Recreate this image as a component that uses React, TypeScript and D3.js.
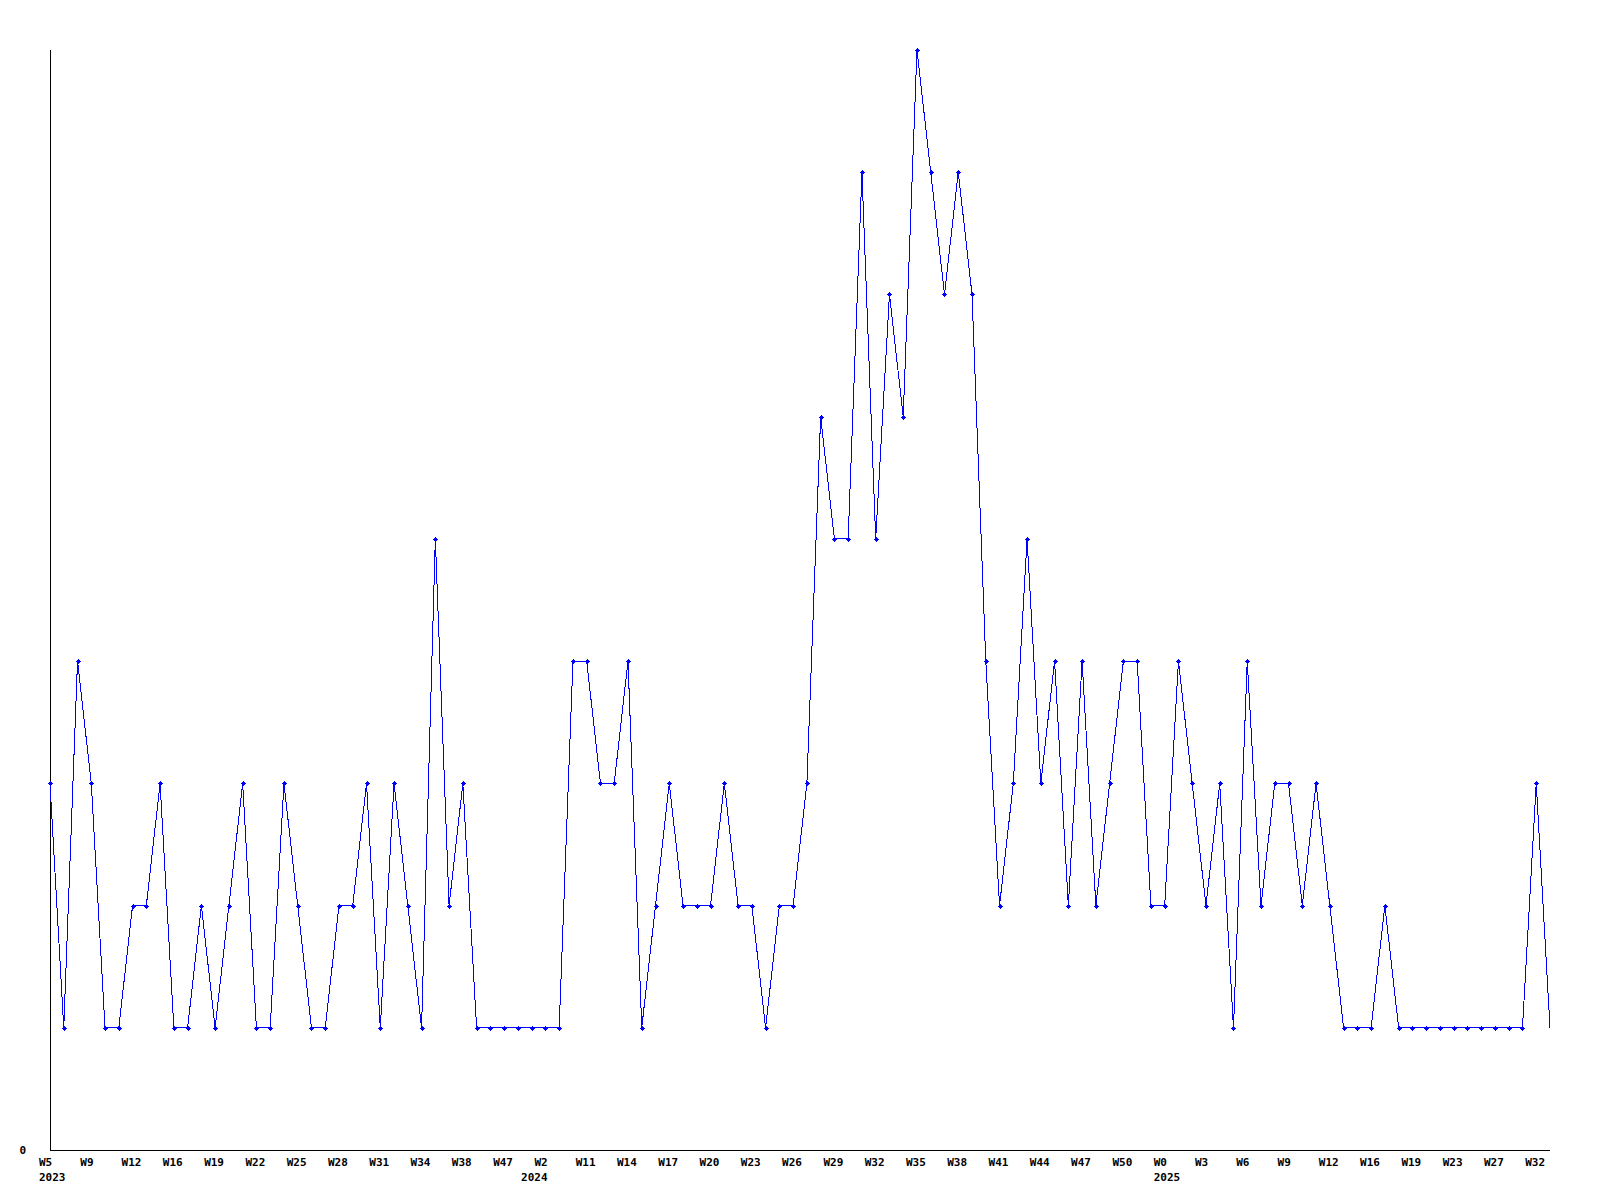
import React from "react";
import * as d3 from "d3";

const values: number[] = [
  3, 1, 4, 3, 1, 1, 2, 2, 3, 1,
  1, 2, 1, 2, 3, 1, 1, 3, 2, 1,
  1, 2, 2, 3, 1, 3, 2, 1, 5, 2,
  3, 1, 1, 1, 1, 1, 1, 1, 4, 4,
  3, 3, 4, 1, 2, 3, 2, 2, 2, 3,
  2, 2, 1, 2, 2, 3, 6, 5, 5, 8,
  5, 7, 6, 9, 8, 7, 8, 7, 4, 2,
  3, 5, 3, 4, 2, 4, 2, 3, 4, 4,
  2, 2, 4, 3, 2, 3, 1, 4, 2, 3,
  3, 2, 3, 2, 1, 1, 1, 2, 1, 1,
  1, 1, 1, 1, 1, 1, 1, 1, 3, 1,
];

const weekLabels: string[] = [
  "W5", "W9", "W12", "W16", "W19", "W22", "W25", "W28", "W31", "W34", "W38", "W47", "W2",
  "W11", "W14", "W17", "W20", "W23", "W26", "W29", "W32", "W35", "W38", "W41", "W44", "W47", "W50",
  "W0", "W3", "W6", "W9", "W12", "W16", "W19", "W23", "W27", "W32",
];
const labelEvery = 3;

const years: string[] = ["2023", "2024", "2025"];
const yearIndex: number[] = [0, 36, 81];
const yearAnchor: ("start" | "end")[] = ["start", "end", "start"];

const yTicks: number[] = [0];

const W = 1600;
const H = 1200;
const left = 50;
const right = 1550;
const top = 50;
const bottom = 1150;
const font = "'DejaVu Sans Mono', monospace";

export default function App() {
  const x = d3
    .scaleLinear()
    .domain([0, values.length - 1])
    .range([left, right]);
  const y = d3.scaleLinear().domain([0, d3.max(values) as number]).range([bottom, top]);

  const line = d3
    .line<number>()
    .x((_, i) => x(i))
    .y((d) => y(d));

  const marker = "M-1.5,-1.5h3v3h-3z M-2.5,-0.5h5v1h-5z M-0.5,-2.5h1v5h-1z";

  return (
    <svg
      width={W}
      height={H}
      style={{ position: "absolute", left: 0, top: 0, background: "#fff" }}
    >
      <rect x={0} y={0} width={W} height={H} fill="#fff" />
      <line x1={left + 0.5} y1={top} x2={left + 0.5} y2={bottom} stroke="#000" strokeWidth={1} shapeRendering="crispEdges" />
      <line x1={left} y1={bottom + 0.5} x2={right} y2={bottom + 0.5} stroke="#000" strokeWidth={1} shapeRendering="crispEdges" />
      <path d={line(values) || ""} fill="none" stroke="#0000ff" strokeWidth={1} shapeRendering="crispEdges" />
      {values.slice(0, values.length - 1).map((d, i) => (
        <path
          key={i}
          d={marker}
          transform={`translate(${Math.round(x(i))},${Math.round(y(d))})`}
          fill="#0000ff"
          shapeRendering="crispEdges"
        />
      ))}
      {yTicks.map((t) => (
        <text
          key={t}
          x={26}
          y={y(t) + 3.5}
          textAnchor="end"
          fontFamily={font}
          fontWeight="bold"
          fontSize={11}
          fill="#000"
        >
          {t}
        </text>
      ))}
      {weekLabels.map((lbl, k) => (
        <text
          key={k}
          x={x(k * labelEvery) - 11}
          y={1166}
          fontFamily={font}
          fontWeight="bold"
          fontSize={11}
          fill="#000"
        >
          {lbl}
        </text>
      ))}
      {years.map((yr, k) => {
        const idx = yearIndex[k];
        const lbl = weekLabels[idx / labelEvery];
        const start = x(idx) - 11;
        const ax = yearAnchor[k] === "start" ? start : start + lbl.length * 6.6;
        return (
          <text
            key={yr}
            x={ax}
            y={1181}
            textAnchor={yearAnchor[k]}
            fontFamily={font}
            fontWeight="bold"
            fontSize={11}
            fill="#000"
          >
            {yr}
          </text>
        );
      })}
    </svg>
  );
}
